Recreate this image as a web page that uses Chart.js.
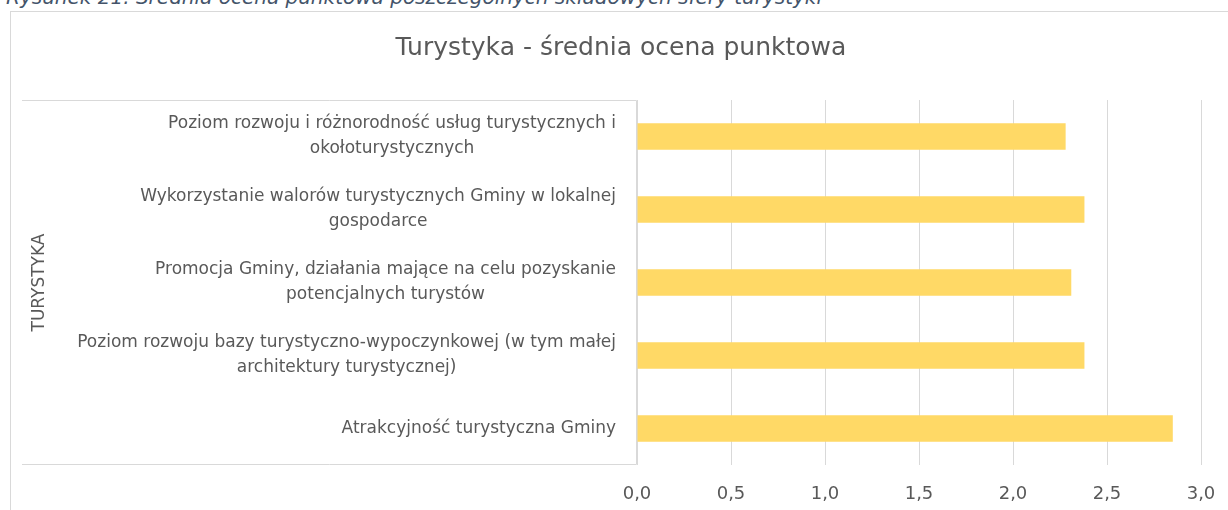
<!DOCTYPE html>
<html>
<head>
<meta charset="utf-8">
<script src="https://cdn.jsdelivr.net/npm/chart.js@4"></script>
<style>
  body { margin: 0; background: #fff; width: 1228px; height: 510px; overflow: hidden; position: relative; }
  #caption { position: absolute; left: 6px; top: -14px; line-height: 23px; font-family: "DejaVu Sans", sans-serif; font-style: italic; font-size: 20px; color: #44546a; white-space: nowrap; }
  #frame { position: absolute; left: 10px; top: 11px; width: 1240px; height: 520px; border: 1px solid #d9d9d9; }
  #wrap { position: absolute; left: 0; top: 0; width: 1228px; height: 510px; }
</style>
</head>
<body>
<div id="caption">Rysunek 21. Średnia ocena punktowa poszczególnych składowych sfery turystyki</div>
<div id="frame"></div>
<div id="wrap"><canvas id="chart" width="1228" height="510"></canvas></div>
<script>
const categories = [
    ["Poziom rozwoju i różnorodność usług turystycznych i", "okołoturystycznych"],
    ["Wykorzystanie walorów turystycznych Gminy w lokalnej", "gospodarce"],
    ["Promocja Gminy, działania mające na celu pozyskanie", "potencjalnych turystów"],
    ["Poziom rozwoju bazy turystyczno-wypoczynkowej (w tym małej", "architektury turystycznej)"],
    ["Atrakcyjność turystyczna Gminy"]
]
const values = [2.28, 2.38, 2.31, 2.38, 2.85]
const groupLabel = "TURYSTYKA"
const chartTitle = "Turystyka - średnia ocena punktowa"

const fontFamily = "'DejaVu Sans', sans-serif"
const textColor = "#595959"

// Excel style category box: labels centred per block, box lines and the rotated group name
const groupBox = {
    id: "groupBox",
    afterDraw(chart) {
        const {ctx, chartArea: {left, top, bottom}} = chart
        const yScale = chart.scales.y
        ctx.save()
        ctx.strokeStyle = "#d9d9d9"
        ctx.lineWidth = 1
        ctx.beginPath()
        ctx.moveTo(22, top + 0.5)
        ctx.lineTo(left - 0.5, top + 0.5)
        ctx.lineTo(left - 0.5, bottom - 0.5)
        ctx.lineTo(22, bottom - 0.5)
        ctx.stroke()

        ctx.fillStyle = textColor
        ctx.font = "17px " + fontFamily
        ctx.textAlign = "center"
        ctx.textBaseline = "middle"
        const lineH = 25
        yScale.ticks.forEach((t, i) => {
            const lines = [].concat(chart.data.labels[i])
            const w = Math.max(...lines.map(l => ctx.measureText(l).width))
            const cx = left - 21 - w / 2
            const cy = yScale.getPixelForTick(i)
            lines.forEach((l, j) => {
                ctx.fillText(l, cx, cy + (j - (lines.length - 1) / 2) * lineH)
            })
        })

        ctx.font = "25px " + fontFamily
        ctx.textBaseline = "alphabetic"
        ctx.fillText(chartTitle, 621, 55)

        ctx.translate(40, (top + bottom) / 2)
        ctx.rotate(-Math.PI / 2)
        ctx.font = "17px " + fontFamily
        ctx.textBaseline = "middle"
        ctx.fillText(groupLabel, 0, 0)
        ctx.restore()
    }
}

const ctx = document.getElementById("chart").getContext("2d")
new Chart(ctx, {
    type: "bar",
    data: {
        labels: categories,
        datasets: [{
            data: values,
            backgroundColor: "#ffd966",
            borderWidth: 0,
            barPercentage: 0.36,
            categoryPercentage: 1
        }]
    },
    options: {
        indexAxis: "y",
        responsive: false,
        animation: false,
        devicePixelRatio: 1,
        layout: {
            padding: {left: 22, right: 27, bottom: 8, top: 100}
        },
        scales: {
            x: {
                min: 0,
                max: 3,
                border: {display: false},
                grid: {color: "#d9d9d9", drawTicks: false},
                afterFit(scale) {
                    scale.height = 37
                    scale.paddingLeft = 0
                    scale.paddingRight = 0
                },
                ticks: {
                    stepSize: 0.5,
                    padding: 19,
                    color: textColor,
                    font: {family: fontFamily, size: 18},
                    callback: v => v.toFixed(1).replace(".", ",")
                }
            },
            y: {
                border: {display: false},
                grid: {display: false},
                afterFit(scale) { scale.width = 615 },
                ticks: {display: false}
            }
        },
        plugins: {
            legend: {display: false},
            tooltip: {enabled: false},
            title: {display: false}
        }
    },
    plugins: [groupBox]
})
</script>
</body>
</html>
